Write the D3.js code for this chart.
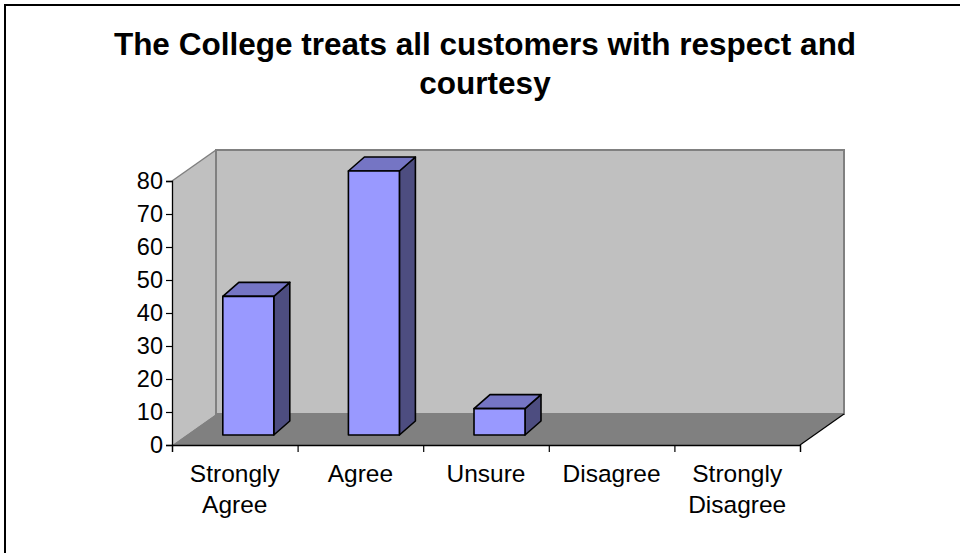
<!DOCTYPE html>
<html>
<head>
<meta charset="utf-8">
<script src="https://cdn.jsdelivr.net/npm/d3@7"></script>
<style>
  body { margin: 0; background: #fff; }
  svg { display: block; font-family: Arial, "Liberation Sans", sans-serif; }
</style>
</head>
<body>
<svg width="960" height="553"></svg>
<script>
const categories = ["Strongly Agree", "Agree", "Unsure", "Disagree", "Strongly Disagree"];
const values = [42, 80, 8, 0, 0];
const yTicks = [0, 10, 20, 30, 40, 50, 60, 70, 80];
const titleLines = ["The College treats all customers with respect and", "courtesy"];

var svg = d3.select("svg");

// chart border (only top/left fall inside the picture)
svg.append("rect")
  .attr("x", 5).attr("y", 5)
  .attr("width", 2000).attr("height", 2000)
  .attr("fill", "#fff").attr("stroke", "#000").attr("stroke-width", 2);

// title
svg.append("g").selectAll("text")
  .data(titleLines)
  .enter().append("text")
    .attr("x", 485)
    .attr("y", (d, i) => 55 + i * 39)
    .attr("text-anchor", "middle")
    .style("font-size", "31.5px")
    .style("font-weight", "bold")
    .text(d => d);

// front plane of the plot + depth offset for walls
const plotL = 172, plotR = 800, plotB = 445, plotT = 181;
const depthX = 44, depthY = -31;

var x = d3.scaleBand().domain(categories).range([plotL, plotR])
  .paddingInner(0.594).paddingOuter(0.297);
var y = d3.scaleLinear().domain([0, 80]).range([plotB, plotT]);

const g = svg.append("g");
const pts = p => p.map(q => q.join(",")).join(" ");

// side wall
g.append("polygon")
  .attr("points", pts([[plotL, plotT], [plotL + depthX, plotT + depthY], [plotL + depthX, plotB + depthY], [plotL, plotB]]))
  .attr("fill", "#c0c0c0");
// back wall
g.append("polygon")
  .attr("points", pts([[plotL + depthX, plotT + depthY], [plotR + depthX, plotT + depthY], [plotR + depthX, plotB + depthY], [plotL + depthX, plotB + depthY]]))
  .attr("fill", "#c0c0c0").attr("stroke", "#808080").attr("stroke-width", 2);
g.append("line")
  .attr("x1", plotL).attr("y1", plotT)
  .attr("x2", plotL + depthX).attr("y2", plotT + depthY)
  .attr("stroke", "#808080").attr("stroke-width", 1.5);
// floor
g.append("polygon")
  .attr("points", pts([[plotL, plotB], [plotR, plotB], [plotR + depthX, plotB + depthY], [plotL + depthX, plotB + depthY]]))
  .attr("fill", "#808080");
g.append("line")
  .attr("x1", plotR).attr("y1", plotB)
  .attr("x2", plotR + depthX).attr("y2", plotB + depthY)
  .attr("stroke", "#000").attr("stroke-width", 1.2);

// bars
const off0x = 13.5, off0y = -10;   // bar front face inside the depth
const bdx = 16, bdy = -14;          // bar depth
const bars = g.selectAll(".bar")
  .data(categories.map((c, i) => ({ c: c, v: values[i] })).filter(d => d.v > 0))
  .enter().append("g").attr("class", "bar");

bars.each(function(d) {
  const b = d3.select(this);
  const x0 = x(d.c) + off0x, x1 = x0 + x.bandwidth();
  const y0 = y(0) + off0y, y1 = y(d.v) + off0y;
  b.append("polygon")
    .attr("points", pts([[x1, y1], [x1 + bdx, y1 + bdy], [x1 + bdx, y0 + bdy], [x1, y0]]))
    .attr("fill", "#4d4d80");
  b.append("polygon")
    .attr("points", pts([[x0, y1], [x0 + bdx, y1 + bdy], [x1 + bdx, y1 + bdy], [x1, y1]]))
    .attr("fill", "#7575c4");
  b.append("rect")
    .attr("x", x0).attr("y", y1)
    .attr("width", x1 - x0).attr("height", y0 - y1)
    .attr("fill", "#9999ff");
  b.selectAll("polygon, rect")
    .attr("stroke", "#000").attr("stroke-width", 1.6).attr("stroke-linejoin", "round");
});

// y axis
const yAxis = g.append("g")
  .attr("transform", `translate(${plotL},0)`)
  .call(d3.axisLeft(y).tickValues(yTicks).tickSize(6).tickPadding(3));
yAxis.select(".domain").attr("stroke", "#000").attr("stroke-width", 1.3);
yAxis.selectAll(".tick line").attr("stroke", "#000").attr("stroke-width", 1.2);
yAxis.selectAll(".tick text")
  .attr("fill", "#000")
  .style("font-family", "Arial, 'Liberation Sans', sans-serif")
  .style("font-size", "23.5px");

// x axis: ticks at category boundaries, labels at centers
var xb = d3.scaleLinear().domain([0, categories.length]).range([plotL, plotR]);
const xAxis = g.append("g")
  .attr("transform", `translate(0,${plotB})`)
  .call(d3.axisBottom(xb).ticks(categories.length).tickSize(7).tickFormat(""));
xAxis.select(".domain").attr("stroke", "#000").attr("stroke-width", 1.3);
xAxis.selectAll(".tick line").attr("stroke", "#000").attr("stroke-width", 1.2);

const labels = g.append("g").selectAll("text")
  .data(categories)
  .enter().append("text")
    .attr("x", d => x(d) + x.bandwidth() / 2)
    .attr("y", 482)
    .attr("text-anchor", "middle")
    .style("font-size", "24.5px");
labels.each(function(d) {
  const t = d3.select(this);
  d.split(" ").forEach((w, i) => {
    t.append("tspan")
      .attr("x", x(d) + x.bandwidth() / 2)
      .attr("dy", i === 0 ? 0 : 31)
      .text(w);
  });
});
</script>
</body>
</html>
